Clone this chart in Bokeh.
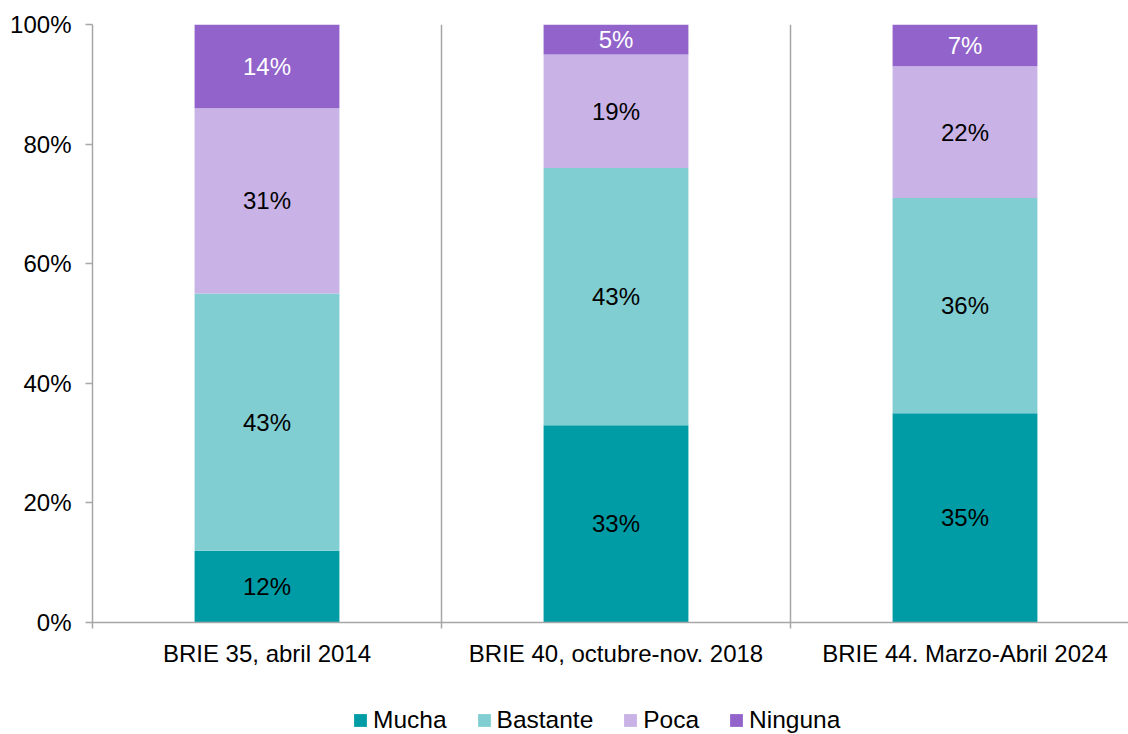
from bokeh.plotting import figure
from bokeh.models import (ColumnDataSource, FixedTicker, Range1d, Legend, LegendItem, LabelSet)
from bokeh.core.properties import value
from bokeh.embed import file_html
from bokeh.resources import INLINE
import numpy as np

categories = ["BRIE 35, abril 2014", "BRIE 40, octubre-nov. 2018", "BRIE 44. Marzo-Abril 2024"]
series_names = ["Mucha", "Bastante", "Poca", "Ninguna"]
mucha = [12, 33, 35]
bastante = [43, 43, 36]
poca = [31, 19, 22]
ninguna = [14, 5, 7]
y_ticks = [0, 20, 40, 60, 80, 100]
y_tick_labels = ["0%", "20%", "40%", "60%", "80%", "100%"]

colors = ["#009CA6", "#80CED1", "#C8B2E6", "#9163CB"]
label_colors = ["black", "black", "black", "white"]
FONT = "Liberation Sans"

# layout geometry (pixels)
W, H = 1128, 734
LEFT, TOP = 92, 24
PLOT_H = 598           # height of the 0..100 area
CAT_W = 349            # width of one category slot
px_per_unit = PLOT_H / 100.0
y_min = -(H - TOP - PLOT_H) / px_per_unit   # room for tick labels and legend

xs = [i + 0.5 for i in range(len(categories))]
data = {"x": xs, "Mucha": mucha, "Bastante": bastante, "Poca": poca, "Ninguna": ninguna}
src = ColumnDataSource(data)

p = figure(width=W, height=H, output_backend="svg", toolbar_location=None,
           x_range=Range1d(0, (W - LEFT) / CAT_W), y_range=Range1d(y_min, 100),
           min_border_left=LEFT, min_border_right=0, min_border_top=TOP, min_border_bottom=0)
p.outline_line_color = None
p.grid.grid_line_color = None

renderers = p.vbar_stack(series_names, x="x", width=0.415, color=colors, line_color=None, source=src)

# data labels
vals = [mucha, bastante, poca, ninguna]
bottom = np.zeros(len(categories))
for name, v, tc in zip(series_names, vals, label_colors):
    v = np.array(v, dtype=float)
    mid = bottom + v / 2
    lsrc = ColumnDataSource({"x": xs, "y": list(mid), "t": [f"{int(a)}%" for a in v]})
    p.add_layout(LabelSet(x="x", y="y", text="t", source=lsrc, text_align="center",
                          text_baseline="middle", text_font=value(FONT), text_font_size="24px",
                          text_color=tc))
    bottom = bottom + v

axis_color = "#a6a6a6"

# x axis, pinned at y = 0; minor ticks form the category separators
p.xaxis.fixed_location = 0
p.xaxis.ticker = FixedTicker(ticks=xs, minor_ticks=[1, 2])
p.xaxis.major_label_overrides = {x: c for x, c in zip(xs, categories)}
p.xaxis.major_tick_line_color = None
p.xaxis.major_tick_out = 0
p.xaxis.major_tick_in = 0
p.xaxis.minor_tick_in = PLOT_H
p.xaxis.minor_tick_out = 6
p.xaxis.minor_tick_line_color = axis_color
p.xaxis.minor_tick_line_width = 1.5
p.xaxis.axis_line_color = axis_color
p.xaxis.axis_line_width = 1.5
p.xaxis.major_label_text_font = FONT
p.xaxis.major_label_text_font_size = "24px"
p.xaxis.major_label_text_color = "black"
p.xaxis.major_label_standoff = 11

# y axis
p.yaxis.ticker = FixedTicker(ticks=y_ticks)
p.yaxis.bounds = (-1, 100)
p.yaxis.major_label_overrides = {t: l for t, l in zip(y_ticks, y_tick_labels)}
p.yaxis.minor_tick_line_color = None
p.yaxis.major_tick_in = 0
p.yaxis.major_tick_out = 7
p.yaxis.major_tick_line_color = axis_color
p.yaxis.major_tick_line_width = 1.5
p.yaxis.axis_line_color = axis_color
p.yaxis.axis_line_width = 1.5
p.yaxis.major_label_text_font = FONT
p.yaxis.major_label_text_font_size = "24px"
p.yaxis.major_label_text_color = "black"
p.yaxis.major_label_standoff = 14

legend = Legend(items=[LegendItem(label=n, renderers=[r]) for n, r in zip(series_names, renderers)],
                orientation="horizontal", location=(260, 0),
                glyph_width=16, glyph_height=16, label_standoff=5, spacing=29,
                padding=0, margin=0, border_line_color=None, background_fill_alpha=0,
                label_text_font=FONT, label_text_font_size="24.5px", label_text_color="black",
                label_height=16)
p.add_layout(legend, "center")

open("out.html", "w").write(file_html(p, INLINE))
